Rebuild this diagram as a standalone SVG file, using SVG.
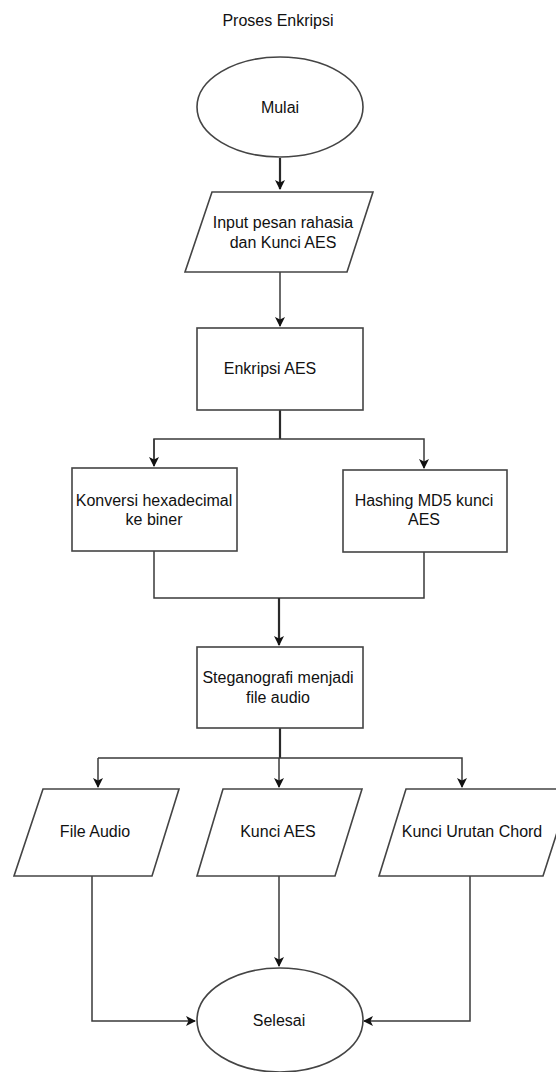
<svg xmlns="http://www.w3.org/2000/svg" width="556" height="1072" viewBox="0 0 556 1072">
<style>
.n{fill:#fff;stroke:#444;stroke-width:1.6}
.t{font-family:"Liberation Sans",Arial,sans-serif;font-size:16px;fill:#111;text-anchor:middle}
.c{fill:none;stroke:#3a3a3a;stroke-width:1.5}
.k{fill:none;stroke:#2a2a2a;stroke-width:2.2}
</style>
<defs>
<marker id="a" markerUnits="userSpaceOnUse" markerWidth="12" markerHeight="12" refX="9" refY="5" orient="auto">
<path d="M0,0 L10,5 L0,10 L2.5,5 Z" fill="#111"/>
</marker>
</defs>
<rect width="556" height="1072" fill="#fff"/>
<text class="t" x="278" y="26">Proses Enkripsi</text>
<g id="connectors">
<path class="k" d="M280,158 V189" marker-end="url(#a)"/>
<path class="c" d="M280,272 V326" marker-end="url(#a)"/>
<path class="k" d="M280,410 V439"/>
<path class="c" d="M154,466 V439 H424 V468" marker-end="url(#a)"/>
<path class="c" d="M154,439 V466" marker-end="url(#a)"/>
<path class="c" d="M154,551 V598 H424 V552"/>
<path class="k" d="M279,598 V645" marker-end="url(#a)"/>
<path class="k" d="M280,728 V758"/>
<path class="c" d="M98,758 H462 V787" marker-end="url(#a)"/>
<path class="c" d="M98,758 V787" marker-end="url(#a)"/>
<path class="c" d="M279,758 V787" marker-end="url(#a)"/>
<path class="c" d="M92,876 V1021 H195" marker-end="url(#a)"/>
<path class="c" d="M279,876 V966" marker-end="url(#a)"/>
<path class="c" d="M470,876 V1021 H364" marker-end="url(#a)"/>
</g>
<g id="mulai"><ellipse class="n" cx="280" cy="107" rx="83" ry="50"/><text class="t" x="280" y="113">Mulai</text></g>
<g id="input"><polygon class="n" points="212,192 373,192 347,272 185,272"/><text class="t" x="283" y="228">Input pesan rahasia</text><text class="t" x="283" y="248">dan Kunci AES</text></g>
<g id="enkripsi"><rect class="n" x="197" y="328" width="166" height="82"/><text class="t" x="270" y="374">Enkripsi AES</text></g>
<g id="konversi"><rect class="n" x="72" y="468" width="165" height="83"/><text class="t" x="154" y="506">Konversi hexadecimal</text><text class="t" x="154" y="525">ke biner</text></g>
<g id="hashing"><rect class="n" x="343" y="470" width="164" height="82"/><text class="t" x="424" y="506">Hashing MD5 kunci</text><text class="t" x="424" y="525">AES</text></g>
<g id="stegano"><rect class="n" x="197" y="647" width="166" height="81"/><text class="t" x="278" y="683">Steganografi menjadi</text><text class="t" x="278" y="703">file audio</text></g>
<g id="fileaudio"><polygon class="n" points="43,789 179,789 152,876 14,876"/><text class="t" x="95" y="837">File Audio</text></g>
<g id="kunciaes"><polygon class="n" points="223,789 362,789 335,876 197,876"/><text class="t" x="278" y="837">Kunci AES</text></g>
<g id="kunciurutan"><polygon class="n" points="406,789 571,789 543,876 379,876"/><text class="t" x="472" y="837">Kunci Urutan Chord</text></g>
<g id="selesai"><ellipse class="n" cx="280" cy="1020" rx="83" ry="52"/><text class="t" x="279" y="1026">Selesai</text></g>
</svg>
